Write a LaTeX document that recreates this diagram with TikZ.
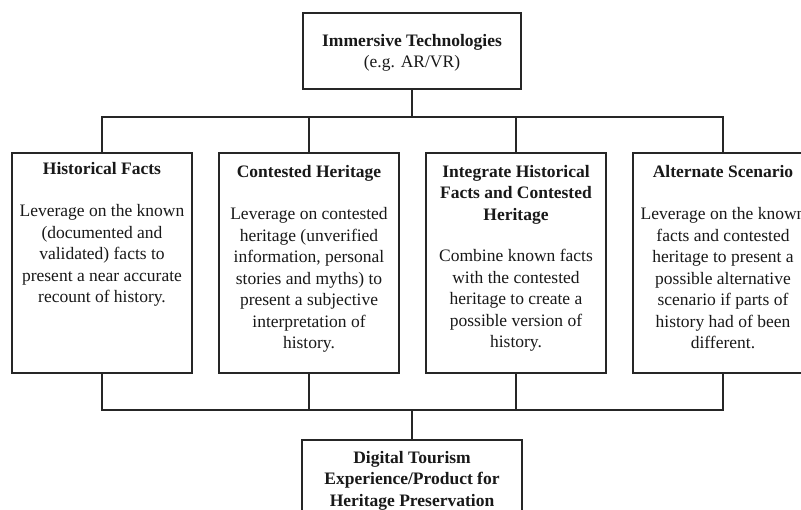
\documentclass[tikz,border=0pt]{standalone}
\usepackage{fontspec}
\setmainfont{Liberation Serif}
\begin{document}
\begin{tikzpicture}[x=1pt,y=-1pt,
  line width=1.7pt, draw=black!85,
  box/.style={draw=black!85, line width=1.7pt, rectangle, inner sep=0pt, minimum width=#1, minimum height=220pt},
  box/.default=180pt,
  txt/.style={anchor=north, align=center, inner sep=0pt, font=\fontsize{17.5}{21.5}\selectfont, text=black!90},
  conn/.style={draw=black!85, line width=1.7pt}]
\path[use as bounding box, clip] (0,0) rectangle (801,510);
\fill[white] (0,0) rectangle (801,510);
% top box
\node[draw=black!85, line width=1.7pt, rectangle, inner sep=0pt, minimum width=218pt, minimum height=76pt] (top) at (412,51) {};
\node[txt] (topt) at ([yshift=-21pt]top.north) {\textbf{Immersive Technologies}\\(e.g. AR/VR)};
% four boxes
\node[box] (b1) at (102,263) {};
\node[box] (b2) at (309,263) {};
\node[box] (b3) at (516,263) {};
\node[box] (b4) at (723,263) {};
\node[txt] (t1) at ([yshift=-9pt]b1.north) {\textbf{Historical Facts}\\[21pt]Leverage on the known\\(documented and\\validated) facts to\\present a near accurate\\recount of history.};
\node[txt] (t2) at ([yshift=-12pt]b2.north) {\textbf{Contested Heritage}\\[21pt]Leverage on contested\\heritage (unverified\\information, personal\\stories and myths) to\\present a subjective\\interpretation of\\history.};
\node[txt] (t3) at ([yshift=-12pt]b3.north) {\textbf{Integrate Historical}\\\textbf{Facts and Contested}\\\textbf{Heritage}\\[20pt]Combine known facts\\with the contested\\heritage to create a\\possible version of\\history.};
\node[txt] (t4) at ([yshift=-12pt]b4.north) {\textbf{Alternate Scenario}\\[21pt]Leverage on the known\\facts and contested\\heritage to present a\\possible alternative\\scenario if parts of\\history had of been\\different.};
% bottom box
\node[draw=black!85, line width=1.7pt, rectangle, inner sep=0pt, minimum width=220pt, minimum height=90pt] (bot) at (412,485) {};
\node[txt] (bott) at ([yshift=-11pt]bot.north) {\textbf{Digital Tourism}\\\textbf{Experience/Product for}\\\textbf{Heritage Preservation}};
% connectors
\coordinate (tb) at (412,117);
\coordinate (bb) at (412,410);
\draw[conn] (top.south) -- (tb);
\draw[conn] (b1.north) -- (b1.north |- tb) -- (b4.north |- tb) -- (b4.north);
\draw[conn] (b2.north) -- (b2.north |- tb);
\draw[conn] (b3.north) -- (b3.north |- tb);
\draw[conn] (b1.south) -- (b1.south |- bb) -- (b4.south |- bb) -- (b4.south);
\draw[conn] (b2.south) -- (b2.south |- bb);
\draw[conn] (b3.south) -- (b3.south |- bb);
\draw[conn] (bb) -- (bot.north);
\end{tikzpicture}
\end{document}
